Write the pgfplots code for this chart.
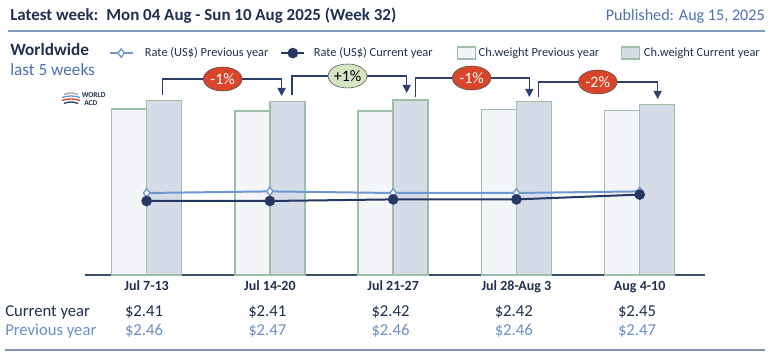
\documentclass[border=0pt]{standalone}
\usepackage{pgfplots}
\pgfplotsset{compat=1.18}
\usepackage{pgfplotstable}
\usepackage{fontspec}
\setmainfont{Carlito}
\usetikzlibrary{arrows.meta,shapes.geometric}
\definecolor{navy}{HTML}{1F3050}
\definecolor{pubblue}{HTML}{4A72B0}
\definecolor{rulec}{HTML}{8099C4}
\definecolor{prevfill}{HTML}{F4F5F9}
\definecolor{curfill}{HTML}{D5DCE7}
\definecolor{baredge}{HTML}{9CBFA6}
\definecolor{prevline}{HTML}{6F97CF}
\definecolor{curline}{HTML}{253863}
\definecolor{arrowc}{HTML}{2D3F6C}
\definecolor{redb}{HTML}{D8452B}
\definecolor{greenb}{HTML}{D5E5C3}
\definecolor{axisc}{HTML}{3B4F66}
\definecolor{prevtxt}{HTML}{6A8FC4}

\pgfplotstableread{
x prev cur
0 166.0 174.3
1 164.0 173.3
2 164.0 175.0
3 165.7 173.3
4 164.3 170.3
}\weights
\pgfplotstableread{
x ratecur rateprev
0 2.41 2.46
1 2.41 2.47
2 2.42 2.46
3 2.42 2.46
4 2.45 2.47
}\rates

\begin{document}
\begin{tikzpicture}[x=0.75pt,y=-0.75pt]
\useasboundingbox (0,0) rectangle (770,359);
% header
\node[anchor=west, font=\fontsize{12.7}{14}\selectfont\bfseries, text=navy, inner sep=0] at (10,16) {Latest week:\hspace{6pt}Mon 04 Aug - Sun 10 Aug 2025 (Week 32)};
\node[anchor=east, font=\fontsize{12.1}{14}\selectfont, text=pubblue, inner sep=0] at (765,16) {Published: Aug 15, 2025};
\draw[rulec, line width=1.1pt] (8,31) -- (765,31);
\node[anchor=west, font=\fontsize{12.9}{14}\selectfont\bfseries, text=navy, inner sep=0] at (10,50) {Worldwide};
\node[anchor=west, font=\fontsize{12.9}{14}\selectfont, text=pubblue, inner sep=0] at (10,70) {last 5 weeks};
% logo
\draw[gray!70, line width=1pt] (64,94.5) .. controls (68,92.5) and (74,92.5) .. (78,94.5);
\draw[prevline, line width=1pt] (62,97.5) .. controls (68,95.5) and (74,95.5) .. (80,97.5);
\draw[redb, line width=1pt] (62,100.5) .. controls (68,98.5) and (74,98.5) .. (80,100.5);
\draw[arrowc, line width=1pt] (64,103.5) .. controls (68,101.5) and (74,101.5) .. (78,103.5);
\node[anchor=west, font=\fontsize{5.6}{6}\selectfont\bfseries, text=navy, inner sep=0] at (81.5,95.5) {WORLD};
\node[anchor=west, font=\fontsize{5.6}{6}\selectfont\bfseries, text=navy, inner sep=0] at (84,103.5) {ACD};

% bars
\begin{axis}[
  at={(63.75pt,-206.25pt)}, anchor=south west, scale only axis,
  width=465pt, height=142.5pt,
  xmin=-0.5, xmax=4.53, ymin=0, ymax=190,
  axis x line*=bottom, axis y line=none,
  axis line style={axisc, line width=1.1pt},
  xtick={0,1,2,3,4},
  xticklabels={Jul 7-13, Jul 14-20, Jul 21-27, Jul 28-Aug 3, Aug 4-10},
  major tick length=0pt,
  xticklabel style={font=\fontsize{10.5}{12}\selectfont\bfseries, text=navy, yshift=-1pt},
  ybar, bar width=26.25pt, clip=false,
]
\addplot[draw=baredge, fill=prevfill, line width=1pt, bar shift=-13.125pt] table[x=x, y=prev] {\weights};
\addplot[draw=baredge, fill=curfill, line width=1pt, bar shift=13.125pt] table[x=x, y=cur] {\weights};
% change arrows
\draw[arrowc, line width=1.1pt, -{Triangle[width=6pt,length=6pt]}] (axis cs:0.13,180) -- (axis cs:0.13,196) -- (axis cs:1.095,196) -- (axis cs:1.095,179);
\draw[arrowc, line width=1.1pt, -{Triangle[width=6pt,length=6pt]}] (axis cs:1.18,180) -- (axis cs:1.18,199) -- (axis cs:2.11,199) -- (axis cs:2.11,182);
\draw[arrowc, line width=1.1pt, -{Triangle[width=6pt,length=6pt]}] (axis cs:2.18,178) -- (axis cs:2.18,197) -- (axis cs:3.105,197) -- (axis cs:3.105,178);
\draw[arrowc, line width=1.1pt, -{Triangle[width=6pt,length=6pt]}] (axis cs:3.18,178) -- (axis cs:3.18,193) -- (axis cs:4.146,193) -- (axis cs:4.146,176);
\tikzset{bub/.style={ellipse, draw=black!70, minimum width=29pt, minimum height=18pt, inner sep=0, font=\fontsize{12}{13}\selectfont}}
\node[bub, fill=redb, text=white] at (axis cs:0.617,196) {-1\%};
\node[bub, fill=greenb, text=black] at (axis cs:1.63,199) {+1\%};
\node[bub, fill=redb, text=white] at (axis cs:2.637,197) {-1\%};
\node[bub, fill=redb, text=white] at (axis cs:3.66,193) {-2\%};
\end{axis}

% rates
\begin{axis}[
  at={(63.75pt,-206.25pt)}, anchor=south west, scale only axis,
  width=465pt, height=142.5pt,
  xmin=-0.5, xmax=4.53, ymin=1.9475, ymax=3.135,
  hide axis, clip=false,
  legend columns=4,
  legend style={draw=none, fill=none, inner sep=0pt,
    at={(0.038,1.168)}, anchor=west,
    font=\fontsize{9.3}{10}\selectfont, text=navy,
    /tikz/column 1/.style={column sep=6.5pt},
    /tikz/column 2/.style={column sep=7pt},
    /tikz/column 3/.style={column sep=4.5pt},
    /tikz/column 4/.style={column sep=16pt},
    /tikz/column 5/.style={column sep=0pt},
    /tikz/column 6/.style={column sep=14pt},
    /tikz/column 7/.style={column sep=1pt}},
  legend cell align=left,
]
\addplot[prevline, line width=1.5pt, mark=diamond*, mark size=3.2pt, mark options={fill=white, draw=prevline, line width=1pt}] table[x=x, y=rateprev] {\rates};
\addlegendentry{Rate (US\$) Previous year}
\addplot[curline, line width=1.5pt, mark=*, mark size=3.2pt, mark options={fill=curline, draw=curline}] table[x=x, y=ratecur] {\rates};
\addlegendentry{Rate (US\$) Current year}
\addlegendimage{legend image code/.code={\draw[draw=baredge, fill=prevfill, line width=1pt] (0pt,-4.5pt) rectangle (13.5pt,4.5pt);}}
\addlegendentry{Ch.weight Previous year}
\addlegendimage{legend image code/.code={\draw[draw=baredge, fill=curfill, line width=1pt] (0pt,-4.5pt) rectangle (13.5pt,4.5pt);}}
\addlegendentry{Ch.weight Current year}
\end{axis}

% table below
\node[anchor=west, font=\fontsize{12.5}{14}\selectfont, text=navy, inner sep=0] at (5,312) {Current year};
\node[anchor=west, font=\fontsize{12.5}{14}\selectfont, text=prevtxt, inner sep=0] at (5,331) {Previous year};
\foreach \v [count=\i from 0] in {2.41,2.41,2.42,2.42,2.45} {
  \node[font=\fontsize{12.5}{14}\selectfont, text=navy, inner sep=0] at (144+123.25*\i,312) {\$\v};
}
\foreach \v [count=\i from 0] in {2.46,2.47,2.46,2.46,2.47} {
  \node[font=\fontsize{12.5}{14}\selectfont, text=prevtxt, inner sep=0] at (144+123.25*\i,331) {\$\v};
}
\draw[rulec!80!gray, line width=1.1pt] (5,350) -- (765,350);
\end{tikzpicture}
\end{document}
